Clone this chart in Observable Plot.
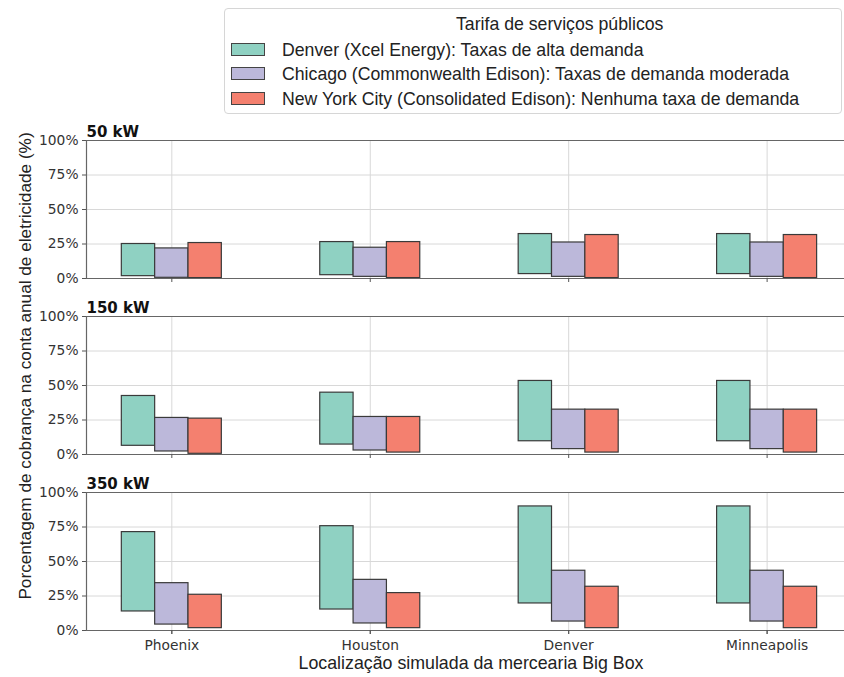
<!DOCTYPE html>
<html>
<head>
<meta charset="utf-8">
<script src="https://cdn.jsdelivr.net/npm/d3@7"></script>
<script src="https://cdn.jsdelivr.net/npm/@observablehq/plot@0.6"></script>
<style>
  body { margin: 0; background: #fff; }
  #wrap { position: relative; width: 844px; height: 677px; overflow: hidden; background: #fff; font-family: "Liberation Sans", Arial, sans-serif; color: #222; }
  #chart { position: absolute; left: 0; top: 0; }
  #legend { position: absolute; left: 224px; top: 8px; width: 618px; height: 106px; border: 1px solid #d6d6d6; border-radius: 4px; background: #fff; box-sizing: border-box; }
  #legend .title { position: absolute; left: 231px; top: 5px; font-size: 17.7px; white-space: nowrap; }
  #legend .row { position: absolute; left: 6px; height: 20px; white-space: nowrap; font-size: 17.7px; }
  #legend .sw { position: absolute; left: 0; top: 3px; width: 34px; height: 13px; border: 1px solid #444; box-sizing: border-box; }
  #legend .lab { position: absolute; left: 51px; top: 0; line-height: 20px; }
  #ylab { position: absolute; left: 25px; top: 366px; transform: translate(-50%, -50%) rotate(-90deg); font-size: 17.2px; white-space: nowrap; }
  #xlab { position: absolute; left: 471px; top: 653px; transform: translateX(-50%); font-size: 17.8px; white-space: nowrap; }
</style>
</head>
<body>
<div id="wrap">
  <div id="chart"></div>
  <div id="legend"></div>
  <div id="ylab">Porcentagem de cobrança na conta anual de eletricidade (%)</div>
  <div id="xlab">Localização simulada da mercearia Big Box</div>
</div>
<script>
// ---- data ----
const locations = ["Phoenix", "Houston", "Denver", "Minneapolis"];
const tariffs = [
  "Denver (Xcel Energy): Taxas de alta demanda",
  "Chicago (Commonwealth Edison): Taxas de demanda moderada",
  "New York City (Consolidated Edison): Nenhuma taxa de demanda"
];
const legendTitle = "Tarifa de serviços públicos";
const tariffColors = ["#8fd1c2", "#bcb8da", "#f4806f"];
const powers = ["50 kW", "150 kW", "350 kW"];
const yTicks = [0, 25, 50, 75, 100];

// per location: [Xcel, ComEd, ConEd] low and high ends of the range (%)
const low50  = [[1.7, 0.5, 0.3], [2.4, 1.2, 0.3], [3.2, 1.2, 0.3], [3.2, 1.2, 0.3]];
const high50 = [[25.0, 21.8, 25.7], [26.4, 22.3, 26.4], [32.2, 26.1, 31.5], [32.2, 26.1, 31.5]];
const low150  = [[6.3, 2.2, 0.5], [7.2, 2.9, 1.4], [9.6, 3.9, 1.4], [9.6, 3.9, 1.4]];
const high150 = [[42.4, 26.5, 26.0], [44.8, 27.2, 27.2], [53.3, 32.5, 32.5], [53.3, 32.5, 32.5]];
const low350  = [[13.8, 4.3, 1.7], [15.2, 5.1, 1.7], [19.6, 6.5, 1.7], [19.6, 6.5, 1.7]];
const high350 = [[71.3, 34.3, 25.9], [75.6, 36.7, 27.1], [89.9, 43.3, 31.7], [89.9, 43.3, 31.7]];

const lows = [low50, low150, low350];
const highs = [high50, high150, high350];

const rows = [];
powers.forEach((p, k) => {
  locations.forEach((loc, i) => {
    tariffs.forEach((t, j) => {
      rows.push({power: p, loc: i, tj: j, tariff: t, lo: lows[k][i][j], hi: highs[k][i][j]});
    });
  });
});

const groupWidth = 0.504;
const barW = groupWidth / tariffs.length;

const chart = Plot.plot({
  width: 844,
  height: 677,
  marginLeft: 86,
  marginRight: 0,
  marginTop: 140,
  marginBottom: 47,
  style: {fontFamily: "DejaVu Sans", fontSize: "13.8px", color: "#333", background: "transparent"},
  x: {domain: [-0.43, 3.39], axis: null},
  y: {domain: [0, 100], axis: null},
  fy: {domain: powers, paddingInner: 0.216, paddingOuter: 0, axis: null, label: null},
  color: {domain: tariffs, range: tariffColors},
  marks: [
    Plot.gridY({ticks: yTicks, stroke: "#d8d8d8", strokeOpacity: 1, strokeWidth: 1}),
    Plot.gridX({ticks: [0, 1, 2, 3], stroke: "#d8d8d8", strokeOpacity: 1, strokeWidth: 1}),
    Plot.rect(rows, {
      x1: d => d.loc - groupWidth / 2 + d.tj * barW,
      x2: d => d.loc - groupWidth / 2 + (d.tj + 1) * barW,
      y1: "lo", y2: "hi",
      fy: "power",
      fill: "tariff",
      stroke: "#3a3a3a",
      strokeWidth: 1.2
    }),
    Plot.ruleY([0, 100], {stroke: "#666", strokeWidth: 1.2}),
    Plot.ruleX([-0.43], {stroke: "#666", strokeWidth: 1.2}),
    Plot.axisY({ticks: yTicks, tickFormat: d => d + "%", tickSize: 4, tickPadding: 4, label: null, facetAnchor: "left", stroke: "#555", fill: "#333"}),
    Plot.axisX({ticks: [0, 1, 2, 3], tickFormat: () => "", tickSize: 4, label: null, facetAnchor: null, stroke: "#555"}),
    Plot.axisX({ticks: [0, 1, 2, 3], tickFormat: i => locations[i], tickSize: 4, tickPadding: 6, label: null, facetAnchor: "bottom", stroke: "#555", fill: "#333"}),
    Plot.text(powers, {fy: d => d, text: d => d, frameAnchor: "top-left", lineAnchor: "bottom", textAnchor: "start", dy: -4, fontWeight: "bold", fontSize: 15, fill: "#111"})
  ]
});
document.getElementById("chart").appendChild(chart);

// legend (HTML)
const lg = document.getElementById("legend");
const tt = document.createElement("div");
tt.className = "title";
tt.textContent = legendTitle;
lg.appendChild(tt);
const rowTops = [31, 55, 80];
tariffs.forEach((t, j) => {
  const r = document.createElement("div");
  r.className = "row";
  r.style.top = rowTops[j] + "px";
  const sw = document.createElement("div");
  sw.className = "sw";
  sw.style.background = tariffColors[j];
  const lb = document.createElement("div");
  lb.className = "lab";
  lb.textContent = t;
  r.appendChild(sw);
  r.appendChild(lb);
  lg.appendChild(r);
});
</script>
</body>
</html>
